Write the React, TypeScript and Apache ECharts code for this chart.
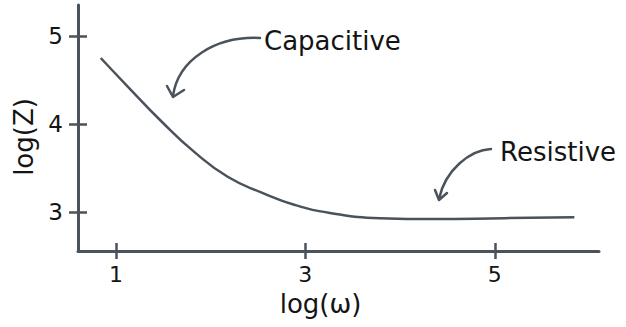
import React, { useEffect, useRef } from "react";
import * as echarts from "echarts";

const xValues = [0.84, 1.13, 1.49, 1.83, 2.18, 2.54, 2.89, 3.26, 3.79, 4.35, 5.1, 5.84];
const yValues = [4.75, 4.42, 4.02, 3.68, 3.4, 3.22, 3.08, 2.99, 2.93, 2.92, 2.93, 2.94];
const xTicks = [1, 3, 5];
const yTicks = [3, 4, 5];
const annotations = ["Capacitive", "Resistive"];
const xName = "log(ω)";
const yName = "log(Z)";

const INK = "#4a525b";
const TEXT = "#141414";
const FONT = "DejaVu Sans";

export default function App() {
  const ref = useRef<HTMLDivElement>(null);
  useEffect(() => {
    if (!ref.current) return;
    const chart = echarts.init(ref.current, null, { renderer: "svg" });
    const data = xValues.map((x, i) => [x, yValues[i]]);
    const xMin = 0.6, xMax = 6.1, yMin = 2.557, yMax = 5.352;
    const baseX = {
      type: "value" as const,
      min: xMin,
      max: xMax,
      position: "bottom" as const,
      splitLine: { show: false },
    };
    const baseY = {
      type: "value" as const,
      min: yMin,
      max: yMax,
      position: "left" as const,
      splitLine: { show: false },
    };
    chart.setOption({
      animation: false,
      grid: { left: 78, right: 27, top: 5, bottom: 76, containLabel: false },
      xAxis: [
        {
          ...baseX,
          name: xName,
          nameLocation: "middle",
          nameGap: 40,
          nameTextStyle: { fontSize: 26, color: TEXT, fontFamily: FONT, padding: [0, 36, 0, 0] },
          axisLine: { show: true, lineStyle: { color: INK, width: 3 } },
          axisTick: { show: true, customValues: xTicks, length: 8, inside: false, lineStyle: { color: INK, width: 2.5 } },
          axisLabel: { show: true, customValues: xTicks, fontSize: 22, color: TEXT, fontFamily: FONT, margin: 12 },
        },
        {
          ...baseX,
          axisLine: { show: false },
          axisTick: { show: true, customValues: xTicks, length: 8, inside: true, lineStyle: { color: INK, width: 2.5 } },
          axisLabel: { show: false },
        },
      ],
      yAxis: [
        {
          ...baseY,
          name: yName,
          nameLocation: "middle",
          nameGap: 39,
          nameTextStyle: { fontSize: 26, color: TEXT, fontFamily: FONT, padding: [0, 18, 0, 0] },
          axisLine: { show: true, lineStyle: { color: INK, width: 3 } },
          axisTick: { show: true, customValues: yTicks, length: 9, inside: false, lineStyle: { color: INK, width: 2.5 } },
          axisLabel: { show: true, customValues: yTicks, fontSize: 23, color: TEXT, fontFamily: FONT, margin: 15 },
        },
        {
          ...baseY,
          axisLine: { show: false },
          axisTick: { show: true, customValues: yTicks, length: 9, inside: true, lineStyle: { color: INK, width: 2.5 } },
          axisLabel: { show: false },
        },
      ],
      series: [
        {
          type: "line",
          data,
          xAxisIndex: 0,
          yAxisIndex: 0,
          smooth: 0.5,
          showSymbol: false,
          symbol: "none",
          lineStyle: { color: INK, width: 2.5 },
          silent: true,
        },
      ],
      graphic: [
        {
          type: "bezierCurve",
          shape: { x1: 260, y1: 38, cpx1: 215, cpy1: 36, cpx2: 178, cpy2: 60, x2: 173, y2: 96 },
          style: { stroke: INK, lineWidth: 2.5, fill: "none", lineCap: "round" },
        },
        {
          type: "polyline",
          shape: { points: [[167, 86], [173, 97], [184, 90]] },
          style: { stroke: INK, lineWidth: 2.5, fill: "none", lineCap: "round", lineJoin: "round" },
        },
        {
          type: "bezierCurve",
          shape: { x1: 491, y1: 149, cpx1: 470, cpy1: 150, cpx2: 445, cpy2: 170, x2: 439, y2: 199 },
          style: { stroke: INK, lineWidth: 2.5, fill: "none", lineCap: "round" },
        },
        {
          type: "polyline",
          shape: { points: [[435, 190], [439, 200], [447, 193]] },
          style: { stroke: INK, lineWidth: 2.5, fill: "none", lineCap: "round", lineJoin: "round" },
        },
        {
          type: "text",
          x: 264,
          y: 41,
          style: { text: annotations[0], fontSize: 26, fill: TEXT, fontFamily: FONT, textVerticalAlign: "middle", verticalAlign: "middle" },
        },
        {
          type: "text",
          x: 500,
          y: 152,
          style: { text: annotations[1], fontSize: 26, fill: TEXT, fontFamily: FONT, textVerticalAlign: "middle", verticalAlign: "middle" },
        },
      ],
    });
    return () => chart.dispose();
  }, []);
  return <div ref={ref} style={{ width: 626, height: 327, position: "absolute", left: 0, top: 0, background: "#fff" }} />;
}
